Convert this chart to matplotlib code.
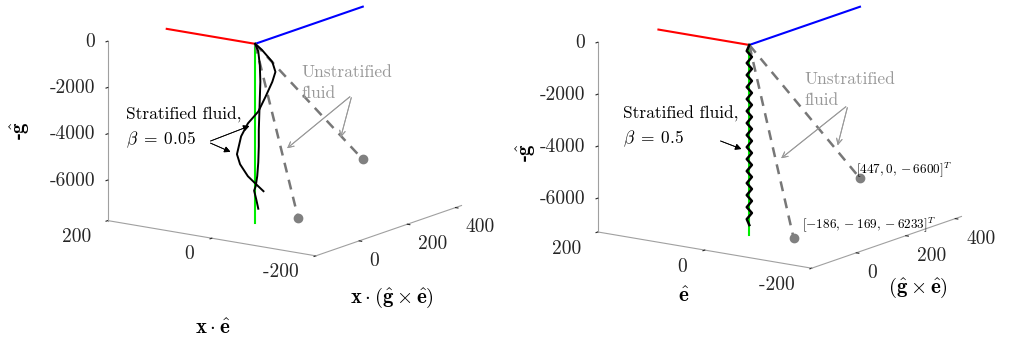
import matplotlib
matplotlib.use("Agg")
import matplotlib.pyplot as plt

plt.rcParams["font.family"] = ["cmr10", "DejaVu Serif"]
plt.rcParams["mathtext.fontset"] = "cm"
plt.rcParams["axes.unicode_minus"] = False

# reference directions (red: e, blue: g x e, green: -g)
e_x, e_y, e_z = [0, 170], [0, 0], [0, 0]
ge_x, ge_y, ge_z = [0, 0], [0, 447], [0, 0]

# unstratified trajectories (same in both panels)
un1_x, un1_y, un1_z = [0, 0], [0, 447], [0, -6600]
un2_x, un2_y, un2_z = [0, -169], [0, -186], [0, -6233]

# stratified, beta = 0.05
sA_x = [0, -13, -33, -39, -33, -20, -6, 14, 27, 35, 29, 14, -2, -16]
sA_y = [0, 0, 0, 0, 0, 0, 0, 0, 0, 0, 0, 0, 0, 0]
sA_z = [0, -210, -654, -1062, -1514, -2206, -2903, -3492, -4099, -4903, -5312, -5772, -6060, -6305]
sB_x = [0, -6, -9, -10, -9, -8, -7, -7, -6, -4, -1, 2, -2, -6]
sB_y = [0, 0, 0, 0, 0, 0, 0, 0, 0, 0, 0, 0, 0, 0]
sB_z = [0, -300, -900, -1600, -2300, -3000, -3700, -4400, -5100, -5700, -6150, -6350, -6700, -7100]
green1_z = [0, -7750]

# stratified, beta = 0.5 (tight wiggle)
sC_x = [0, 3, -3, 3, -3, 3, -3, 3, -3, 3, -3, 3, -3, 3, -3, 3,
        -3, 3, -3, 3, -3, 3, -3, 3, -3, 3, -3, 3, -3, 3, 0]
sC_y = [0, -4, 4, -4, 4, -4, 4, -4, 4, -4, 4, -4, 4, -4, 4, -4,
        4, -4, 4, -4, 4, -4, 4, -4, 4, -4, 4, -4, 4, -4, 0]
sC_z = [0, -231, -462, -693, -924, -1155, -1386, -1617, -1848, -2079, -2310,
        -2541, -2772, -3003, -3234, -3465, -3696, -3927, -4158, -4389, -4620,
        -4851, -5082, -5313, -5544, -5775, -6006, -6237, -6468, -6699, -6930]
green2_z = [0, -7300]

xticks = [200, 0, -200]
yticks = [0, 200, 400]
zticks = [0, -2000, -4000, -6000]


def style_axes(ax, zbottom, zaspect, zoom):
    ax.set_proj_type("ortho")
    ax.set_xlim(-200, 200)
    ax.set_ylim(-180, 425)
    ax.set_zlim(zbottom, 0)
    ax.invert_xaxis()
    ax.view_init(elev=14, azim=-55)
    ax.set_box_aspect((1, 1, zaspect), zoom=zoom)
    ax.grid(False)
    ax.set_xticks(xticks)
    ax.set_xticklabels([str(t) + " " for t in xticks])
    ax.set_yticks(yticks)
    ax.set_yticklabels([str(t) for t in yticks])
    ax.set_zticks(zticks)
    ax.set_zticklabels([str(t) for t in zticks])
    ax.zaxis.set_ticks_position("lower")
    ax.zaxis.set_label_position("lower")
    for axis in (ax.xaxis, ax.yaxis, ax.zaxis):
        axis.set_pane_color((1, 1, 1, 0))
        axis.pane.set_edgecolor((1, 1, 1, 0))
        axis.line.set_color("#a0a0a0")
        axis.line.set_linewidth(0.8)
        axis._axinfo["tick"]["inward_factor"] = 0.15
        axis._axinfo["tick"]["outward_factor"] = 0.0
        axis._axinfo["tick"]["color"] = "#a0a0a0"
        axis.set_tick_params(labelsize=14, colors="#262626")
    ax.xaxis.set_tick_params(pad=1)
    ax.yaxis.set_tick_params(pad=-1.5)
    ax.zaxis.set_tick_params(pad=-3.5)
    for t in ax.xaxis.get_major_ticks():
        t.label1.set_ha("right")
        t.label1.set_va("center")
    for t in ax.yaxis.get_major_ticks():
        t.label1.set_ha("left")
        t.label1.set_va("top")
    for t in ax.zaxis.get_major_ticks():
        t.label1.set_ha("right")
        t.label1.set_va("center")


def draw_common(ax, gz):
    ax.plot(e_x, e_y, e_z, color="red", lw=1.5)
    ax.plot(ge_x, ge_y, ge_z, color="blue", lw=1.5)
    ax.plot([0, 0], [0, 0], gz, color="#00ee00", lw=1.5)
    for xs, ys, zs in ((un1_x, un1_y, un1_z), (un2_x, un2_y, un2_z)):
        ax.plot(xs, ys, zs, color="#777777", lw=1.8, ls=(0, (4, 3)))
        ax.plot(xs[-1:], ys[-1:], zs[-1:], "o", color="#808080", ms=6)


fig = plt.figure(figsize=(10.12, 3.44), dpi=100)

ax1 = fig.add_axes([27 / 1012, 44 / 344, 0.5, 1.0], projection="3d")
style_axes(ax1, -7750, 0.728, 1.14)
draw_common(ax1, green1_z)
ax1.plot(sA_x, sA_y, sA_z, color="black", lw=1.4)
ax1.plot(sB_x, sB_y, sB_z, color="black", lw=1.4)

ax2 = fig.add_axes([0.5 + 16 / 1012, 38 / 344, 0.5, 1.0], projection="3d")
style_axes(ax2, -7300, 0.749, 1.179)
draw_common(ax2, green2_z)
ax2.plot(sC_x, sC_y, sC_z, color="black", lw=1.8)

H = 344
grey = "#999999"
fs_note = 12.5
ls_note = 1.45
fig.text(126, H - 128, "Stratified fluid,\n$\\beta\\;=\\;0.05$", fontsize=fs_note,
         transform=None, va="center", linespacing=ls_note)
for tip in ((252, 125), (233, 153)):
    fig.add_artist(plt.annotate("", xy=(tip[0], H - tip[1]), xytext=(208, H - 142),
                                xycoords="figure pixels", textcoords="figure pixels",
                                arrowprops=dict(arrowstyle="-|>", color="black", lw=0.6,
                                                mutation_scale=9)))
fig.text(301, H - 83, "Unstratified\nfluid", fontsize=fs_note, color=grey,
         transform=None, va="center", linespacing=ls_note)
for tip in ((285, 150), (340, 140)):
    fig.add_artist(plt.annotate("", xy=(tip[0], H - tip[1]), xytext=(352, H - 95),
                                xycoords="figure pixels", textcoords="figure pixels",
                                arrowprops=dict(arrowstyle="->", color=grey, lw=0.7,
                                                mutation_scale=10)))

fig.text(623, H - 127, "Stratified fluid,\n$\\beta\\;=\\;0.5$", fontsize=fs_note,
         transform=None, va="center", linespacing=ls_note)
fig.add_artist(plt.annotate("", xy=(744, H - 150), xytext=(718, H - 140),
                            xycoords="figure pixels", textcoords="figure pixels",
                            arrowprops=dict(arrowstyle="-|>", color="black", lw=0.6,
                                            mutation_scale=9)))
fig.text(804, H - 90, "Unstratified\nfluid", fontsize=fs_note, color=grey,
         transform=None, va="center", linespacing=ls_note)
for tip in ((779, 160), (837, 148)):
    fig.add_artist(plt.annotate("", xy=(tip[0], H - tip[1]), xytext=(848, H - 105),
                                xycoords="figure pixels", textcoords="figure pixels",
                                arrowprops=dict(arrowstyle="->", color=grey, lw=0.7,
                                                mutation_scale=10)))
fig.text(856, H - 170, "$[447, 0, -6600]^T$", fontsize=9.5, transform=None, va="center")
fig.text(802, H - 225, "$[-186, -169, -6233]^T$", fontsize=9.5, transform=None, va="center")

# axis labels
fig.text(20, H - 130, "-$\\hat{\\mathbf{g}}$", fontsize=15, rotation=90, family="cmb10",
         transform=None, ha="center", va="center")
fig.text(526, H - 152, "-$\\hat{\\mathbf{g}}$", fontsize=15, rotation=90, family="cmb10",
         transform=None, ha="center", va="center")
fig.text(213, H - 328, "$\\mathbf{x}\\cdot\\hat{\\mathbf{e}}$", fontsize=15,
         transform=None, ha="center", va="center")
fig.text(392, H - 298, "$\\mathbf{x}\\cdot(\\hat{\\mathbf{g}}\\times\\hat{\\mathbf{e}})$",
         fontsize=15, transform=None, ha="center", va="center")
fig.text(684, H - 296, "$\\hat{\\mathbf{e}}$", fontsize=15,
         transform=None, ha="center", va="center")
fig.text(918, H - 288, "$(\\hat{\\mathbf{g}}\\times\\hat{\\mathbf{e}})$", fontsize=15,
         transform=None, ha="center", va="center")

fig.savefig("out.png", dpi=100)
